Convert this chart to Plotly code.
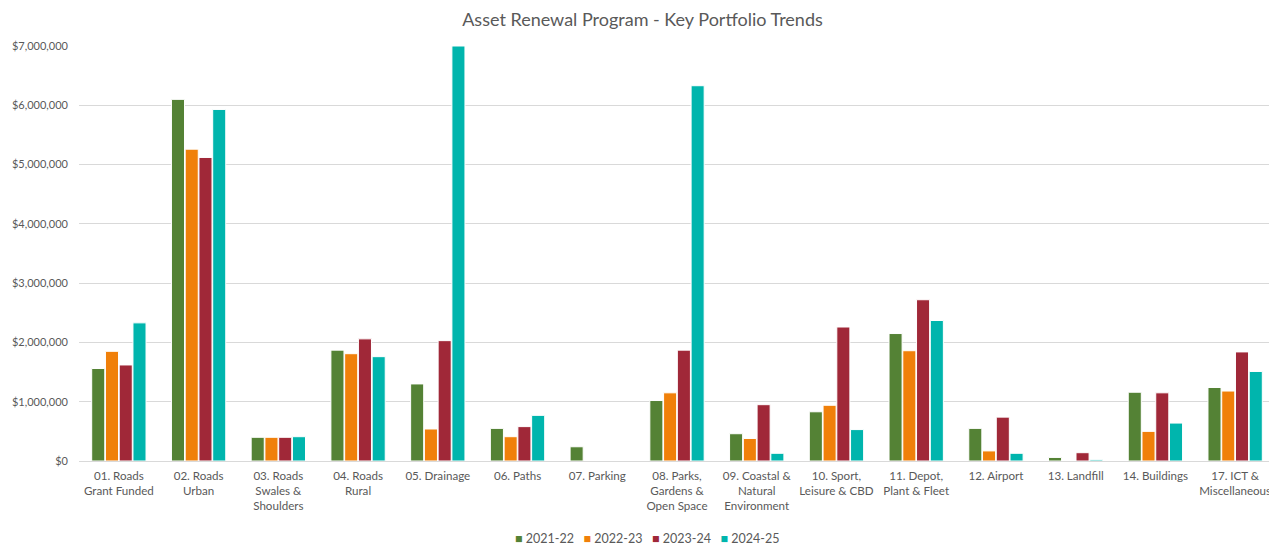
import plotly.graph_objects as go

categories = [
    "01. Roads Grant Funded", "02. Roads Urban", "03. Roads Swales & Shoulders",
    "04. Roads Rural", "05. Drainage", "06. Paths", "07. Parking",
    "08. Parks, Gardens & Open Space", "09. Coastal & Natural Environment",
    "10. Sport, Leisure & CBD", "11. Depot, Plant & Fleet", "12. Airport",
    "13. Landfill", "14. Buildings", "17. ICT & Miscellaneous",
]
tick_labels = [
    "01. Roads<br>Grant Funded", "02. Roads<br>Urban", "03. Roads<br>Swales &<br>Shoulders",
    "04. Roads<br>Rural", "05. Drainage", "06. Paths", "07. Parking",
    "08. Parks,<br>Gardens &<br>Open Space", "09. Coastal &<br>Natural<br>Environment",
    "10. Sport,<br>Leisure & CBD", "11. Depot,<br>Plant & Fleet", "12. Airport",
    "13. Landfill", "14. Buildings", "17. ICT &<br>Miscellaneous",
]

fy_2021_22 = [1560000, 6100000, 400000, 1870000, 1300000, 550000, 240000, 1020000,
              460000, 830000, 2150000, 550000, 60000, 1160000, 1240000]
fy_2022_23 = [1850000, 5260000, 400000, 1810000, 540000, 410000, 0, 1150000,
              380000, 940000, 1860000, 170000, 0, 500000, 1180000]
fy_2023_24 = [1620000, 5120000, 400000, 2060000, 2030000, 580000, 0, 1870000,
              950000, 2260000, 2720000, 740000, 140000, 1150000, 1840000]
fy_2024_25 = [2330000, 5930000, 410000, 1760000, 7000000, 770000, 0, 6330000,
              130000, 530000, 2370000, 130000, 20000, 640000, 1510000]

series_names = ["2021-22", "2022-23", "2023-24", "2024-25"]
series_values = [fy_2021_22, fy_2022_23, fy_2023_24, fy_2024_25]
series_colors = ["#548235", "#F0800A", "#A02838", "#00B5AD"]

font_family = "Lato, 'Open Sans', sans-serif"
grey = "#595959"

# page body has an 8px margin; the figure is sized to fill the rest of the window
W, H = 1269, 539
L, R, T, B = 71, 2, 38, 86
plot_w = W - L - R
plot_h = H - T - B

fig = go.Figure()
for name, vals, color in zip(series_names, series_values, series_colors):
    fig.add_trace(go.Bar(
        name=name, x=categories, y=vals, showlegend=False,
        marker=dict(color=color, line=dict(color="white", width=1)),
    ))

# compact legend (square + label) drawn as text
legend_parts = [
    f'<span style="color:{c}">■</span> {n}' for n, c in zip(series_names, series_colors)
]
legend_text = "&nbsp;&nbsp;&nbsp;".join(legend_parts)
fig.add_annotation(
    text=legend_text, showarrow=False,
    xref="paper", yref="paper",
    x=(639 - L) / plot_w, xanchor="center",
    y=-(530 - (T + plot_h)) / plot_h, yanchor="middle",
    font=dict(family=font_family, size=12.5, color=grey),
)

fig.update_layout(
    width=W, height=H,
    paper_bgcolor="white", plot_bgcolor="white",
    barmode="group", bargap=0.31, bargroupgap=0.05,
    margin=dict(l=L, r=R, t=T, b=B, autoexpand=False),
    title=dict(text="Asset Renewal Program - Key Portfolio Trends",
               x=0.5, xanchor="center", y=1 - 11.5 / H, yanchor="middle",
               font=dict(family=font_family, size=18, color=grey)),
    font=dict(family=font_family, size=12, color=grey),
    showlegend=False,
    xaxis=dict(tickmode="array", tickvals=categories, ticktext=tick_labels,
               showline=True, linecolor="#D9D9D9", linewidth=1, ticks="",
               automargin=False, ticklabelstandoff=4,
               tickangle=0, tickfont=dict(size=11.6, color=grey)),
    yaxis=dict(range=[0, 7000000], dtick=1000000, tickprefix="$", tickformat=",",
               showgrid=True, gridcolor="#D9D9D9", gridwidth=1, zeroline=False,
               automargin=False, ticklabelstandoff=10,
               ticks="", tickfont=dict(size=11, color=grey)),
)

fig.write_html("out.html")
